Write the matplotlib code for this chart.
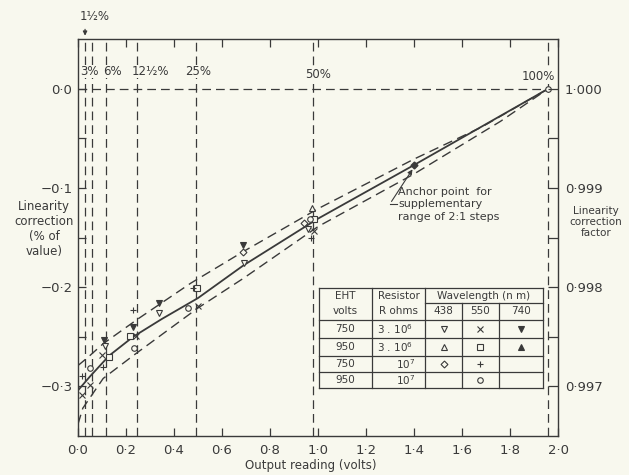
import matplotlib
matplotlib.use("Agg")
import matplotlib.pyplot as plt

BG = "#f8f8ee"
INK = "#3a3a3a"
plt.rcParams['font.family'] = ['DejaVu Sans']

# ---------------- data ----------------
# mean correction curve and its envelope
solid_v = [0.0, 0.05, 0.13, 0.23, 0.35, 0.5, 0.69, 1.0, 1.4, 1.96]
solid_y = [-0.304, -0.290, -0.269, -0.250, -0.232, -0.211, -0.178, -0.131, -0.077, 0.0]
upper_v = [0.0, 0.04, 0.105, 0.25, 0.47, 0.69, 1.0, 1.4, 1.68, 1.96]
upper_y = [-0.279, -0.271, -0.257, -0.232, -0.196, -0.164, -0.121, -0.071, -0.039, 0.0]
lower_v = [0.0, 0.02, 0.105, 0.23, 0.5, 0.69, 1.0, 1.4, 1.76, 1.96]
lower_y = [-0.338, -0.322, -0.292, -0.269, -0.221, -0.191, -0.139, -0.086, -0.033, 0.0]

# percentage-of-full-scale lines
pct_labels = ["1½%", "3%", "6%", "12½%", "25%", "50%", "100%"]
pct_v = [0.0294, 0.0588, 0.1176, 0.245, 0.49, 0.98, 1.96]

# measured points (EHT volts, resistor, wavelength)
v750_3e6_438_v = [0.112, 0.338, 0.69, 0.96]
v750_3e6_438_y = [-0.259, -0.226, -0.176, -0.141]
v750_3e6_550_v = [0.015, 0.05, 0.10, 0.24, 0.50, 0.985]
v750_3e6_550_y = [-0.309, -0.299, -0.268, -0.249, -0.219, -0.143]
v750_3e6_740_v = [0.11, 0.23, 0.338, 0.688]
v750_3e6_740_y = [-0.253, -0.240, -0.216, -0.158]
v950_3e6_438_v = [0.975]
v950_3e6_438_y = [-0.120]
v950_3e6_550_v = [0.13, 0.215, 0.495, 0.983]
v950_3e6_550_y = [-0.270, -0.249, -0.201, -0.131]
v750_1e7_438_v = [0.688, 0.94]
v750_1e7_438_y = [-0.165, -0.135]
v750_1e7_550_v = [0.015, 0.105, 0.23, 0.48, 0.97]
v750_1e7_550_y = [-0.290, -0.280, -0.223, -0.201, -0.151]
v950_1e7_550_v = [0.05, 0.233, 0.46, 0.967, 1.96]
v950_1e7_550_y = [-0.281, -0.261, -0.221, -0.131, 0.0]

anchor_v = [1.40]
anchor_y = [-0.077]

x_ticks = [0.0, 0.2, 0.4, 0.6, 0.8, 1.0, 1.2, 1.4, 1.6, 1.8, 2.0]
x_labels = ["0·0", "0·2", "0·4", "0·6", "0·8", "1·0", "1·2", "1·4", "1·6", "1·8", "2·0"]
y_ticks = [0.0, -0.1, -0.2, -0.3]
y_labels = ["0·0", "−0·1", "−0·2", "−0·3"]
y_minor = [-0.05, -0.15, -0.25]
factor_labels = ["1·000", "0·999", "0·998", "0·997"]

# ---------------- figure ----------------
W, H = 629, 475
fig = plt.figure(figsize=(W / 100, H / 100), dpi=100, facecolor=BG)
ax = fig.add_axes([78 / W, 1 - 436 / H, 480 / W, 397 / H])
ax.set_facecolor(BG)
ax.set_xlim(0, 2.0)
ax.set_ylim(-0.35, 0.05)
for s in ax.spines.values():
    s.set_color(INK)
    s.set_linewidth(1.0)

ax.set_xticks(x_ticks)
ax.set_xticklabels(x_labels)
ax.set_yticks(y_ticks)
ax.set_yticklabels(y_labels)
ax.set_yticks(y_minor, minor=True)
ax.tick_params(axis='x', which='both', direction='in', top=True, length=6, width=0.9,
               color=INK, labelcolor=INK, labelsize=9.5, pad=6)
ax.tick_params(axis='y', which='both', direction='in', length=6, width=0.9,
               color=INK, labelcolor=INK, labelsize=9.5, pad=4)

ax2 = ax.twinx()
ax2.set_ylim(-0.35, 0.05)
ax2.set_yticks(y_ticks)
ax2.set_yticklabels(factor_labels)
ax2.set_yticks(y_minor, minor=True)
ax2.tick_params(axis='y', which='both', direction='in', length=7, width=0.9,
                color=INK, labelcolor=INK, labelsize=9.5, pad=5)
for s in ax2.spines.values():
    s.set_visible(False)

dash = (0, (7, 4))
# percentage lines
for v in pct_v:
    ax.plot([v, v], [-0.35, 0.05], color=INK, lw=0.9, ls=dash, zorder=1)
ax.plot([0, pct_v[-1]], [0, 0], color=INK, lw=0.9, ls=dash, zorder=1)

# percentage labels
lab_pos = [None, (0.048, 0.017), (0.145, 0.017), (0.30, 0.017), (0.50, 0.017),
           (1.0, 0.014), (1.92, 0.012)]
for lab, pos in zip(pct_labels, lab_pos):
    if pos is None:
        continue
    ax.text(pos[0], pos[1], lab, ha='center', va='center', fontsize=8.5, color=INK,
            bbox=dict(boxstyle='square,pad=0.02', fc=BG, ec='none'), zorder=3)
ax.text(0.07, 0.0727, pct_labels[0], ha='center', va='center', fontsize=8.5, color=INK,
        clip_on=False)
ax.annotate("", xy=(pct_v[0], 0.0505), xytext=(pct_v[0], 0.0625),
            arrowprops=dict(arrowstyle='-|>', color=INK, lw=0.9, mutation_scale=6),
            annotation_clip=False)

# curves
ax.plot(solid_v, solid_y, color=INK, lw=1.3, zorder=4)
ax.plot(upper_v, upper_y, color=INK, lw=1.0, ls=dash, zorder=4)
ax.plot(lower_v, lower_y, color=INK, lw=1.0, ls=dash, zorder=4)

mk = dict(color=INK, ls='none', markersize=4, markeredgewidth=0.8, zorder=5)
ax.plot(v750_3e6_438_v, v750_3e6_438_y, marker='v', mfc=BG, **mk)
ax.plot(v750_3e6_550_v, v750_3e6_550_y, marker='x', **mk)
ax.plot(v750_3e6_740_v, v750_3e6_740_y, marker='v', mfc=INK, **mk)
ax.plot(v950_3e6_438_v, v950_3e6_438_y, marker='^', mfc=BG, **mk)
ax.plot(v950_3e6_550_v, v950_3e6_550_y, marker='s', mfc=BG, **mk)
ax.plot(v750_1e7_438_v, v750_1e7_438_y, marker='D', mfc=BG, markersize=3.5,
        color=INK, ls='none', markeredgewidth=0.8, zorder=5)
ax.plot(v750_1e7_550_v, v750_1e7_550_y, marker='+', **mk)
ax.plot(v950_1e7_550_v, v950_1e7_550_y, marker='o', mfc=BG, **mk)

# anchor point and annotation
ax.plot(anchor_v, anchor_y, marker='D', color=INK, markersize=3.5, ls='none', zorder=6)
ax.plot([1.30, 1.33], [-0.116, -0.116], color=INK, lw=0.8)
ax.annotate("", xy=(anchor_v[0], anchor_y[0] - 0.002), xytext=(1.30, -0.116),
            arrowprops=dict(arrowstyle='-|>', color=INK, lw=0.8, mutation_scale=7))
ax.text(1.335, -0.1165, "Anchor point  for\nsupplementary\nrange of 2:1 steps",
        ha='left', va='center', fontsize=8, color=INK, linespacing=1.3, zorder=6)

# table
tx = [1.004, 1.225, 1.446, 1.600, 1.754, 1.9375]
ty = [-0.201, -0.216, -0.233, -0.2515, -0.269, -0.286, -0.302]
tl = dict(color=INK, lw=0.9, zorder=6)
ax.fill_between([tx[0], tx[-1]], ty[-1], ty[0], color=BG, zorder=5.5)
for yy in [ty[0]] + ty[2:]:
    ax.plot([tx[0], tx[-1]], [yy, yy], **tl)
ax.plot([tx[2], tx[-1]], [ty[1], ty[1]], **tl)
for xx in [tx[0], tx[1], tx[2], tx[-1]]:
    ax.plot([xx, xx], [ty[0], ty[-1]], **tl)
for xx in [tx[3], tx[4]]:
    ax.plot([xx, xx], [ty[1], ty[-1]], **tl)

tf = dict(ha='center', va='center', fontsize=7.5, color=INK, zorder=7)
cx = [(tx[i] + tx[i + 1]) / 2 for i in range(5)]
ax.text(cx[0], (ty[0] + ty[1]) / 2, "EHT", **tf)
ax.text(cx[1], (ty[0] + ty[1]) / 2, "Resistor", **tf)
ax.text((tx[2] + tx[-1]) / 2, (ty[0] + ty[1]) / 2, "Wavelength (n m)", **tf)
row2 = ["volts", "R ohms", "438", "550", "740"]
for i, t in enumerate(row2):
    ax.text(cx[i], (ty[1] + ty[2]) / 2, t, **tf)
eht_rows = ["750", "950", "750", "950"]
res_rows = [r"3 . 10$^{6}$", r"3 . 10$^{6}$", r"10$^{7}$", r"10$^{7}$"]
for r in range(4):
    yc = (ty[2 + r] + ty[3 + r]) / 2
    ax.text(cx[0], yc, eht_rows[r], **tf)
    if r < 2:
        ax.text(tx[1] + 0.02, yc, res_rows[r], ha='left', va='center', fontsize=7.5,
                color=INK, zorder=7)
    else:
        ax.text(tx[2] - 0.04, yc, res_rows[r], ha='right', va='center', fontsize=7.5,
                color=INK, zorder=7)
tm = dict(color=INK, ls='none', markersize=4, markeredgewidth=0.8, zorder=7)
rc = lambda r: (ty[2 + r] + ty[3 + r]) / 2
ax.plot([cx[2]], [rc(0)], marker='v', mfc=BG, **tm)
ax.plot([cx[3]], [rc(0)], marker='x', **tm)
ax.plot([cx[4]], [rc(0)], marker='v', mfc=INK, **tm)
ax.plot([cx[2]], [rc(1)], marker='^', mfc=BG, **tm)
ax.plot([cx[3]], [rc(1)], marker='s', mfc=BG, **tm)
ax.plot([cx[4]], [rc(1)], marker='^', mfc=INK, **tm)
ax.plot([cx[2]], [rc(2)], marker='D', mfc=BG, color=INK, ls='none', markersize=3.5,
        markeredgewidth=0.8, zorder=7)
ax.plot([cx[3]], [rc(2)], marker='+', **tm)
ax.plot([cx[3]], [rc(3)], marker='o', mfc=BG, **tm)

# axis titles
fig.text(44 / W, 1 - 229 / H, "Linearity\ncorrection\n(% of\nvalue)", ha='center',
         va='center', fontsize=8.5, color=INK, linespacing=1.2)
fig.text(596 / W, 1 - 222 / H, "Linearity\ncorrection\nfactor", ha='center',
         va='center', fontsize=7.5, color=INK, linespacing=1.1)
fig.text(311 / W, 1 - 466 / H, "Output reading (volts)", ha='center', va='center',
         fontsize=8.5, color=INK)

fig.savefig("out.png", dpi=100, facecolor=BG)
